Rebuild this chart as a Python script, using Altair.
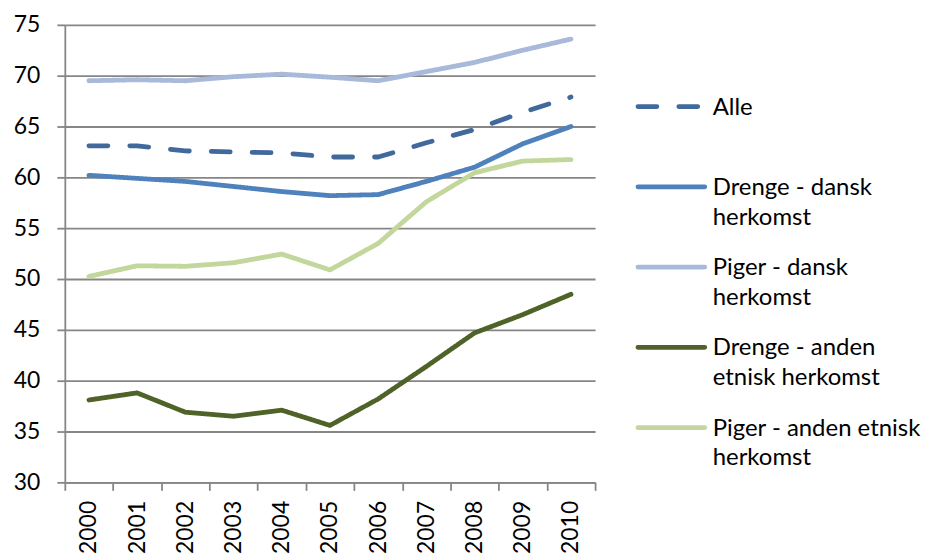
import altair as alt
import pandas as pd

years = [2000, 2001, 2002, 2003, 2004, 2005, 2006, 2007, 2008, 2009, 2010]
alle = [63.1, 63.1, 62.6, 62.5, 62.4, 62.0, 62.0, 63.4, 64.7, 66.4, 67.9]
drenge_dansk = [60.2, 59.9, 59.6, 59.1, 58.6, 58.2, 58.3, 59.6, 61.0, 63.3, 65.0]
piger_dansk = [69.5, 69.6, 69.5, 69.9, 70.15, 69.85, 69.5, 70.4, 71.3, 72.5, 73.6]
drenge_anden = [38.1, 38.8, 36.9, 36.5, 37.1, 35.6, 38.2, 41.4, 44.7, 46.5, 48.5]
piger_anden = [50.25, 51.3, 51.25, 51.6, 52.45, 50.9, 53.5, 57.6, 60.45, 61.6, 61.75]

series_names = ["Alle", "Drenge - dansk herkomst", "Piger - dansk herkomst",
                "Drenge - anden etnisk herkomst", "Piger - anden etnisk herkomst"]
legend_labels = ["Alle", "Drenge - dansk|herkomst", "Piger - dansk|herkomst",
                 "Drenge - anden|etnisk herkomst", "Piger - anden etnisk|herkomst"]
series_values = [alle, drenge_dansk, piger_dansk, drenge_anden, piger_anden]
colors = ["#41699C", "#4F81BD", "#A8B9D9", "#4F6228", "#C3D69B"]
dashes = [[19, 22], [1, 0], [1, 0], [1, 0], [1, 0]]
y_ticks = [30, 35, 40, 45, 50, 55, 60, 65, 70, 75]

rows = []
for name, vals in zip(series_names, series_values):
    for yr, v in zip(years, vals):
        rows.append({"year": yr, "value": v, "series": name})
df = pd.DataFrame(rows)

leg_df = pd.DataFrame({
    "series": series_names,
    "row": [str(i) for i in range(len(series_names))],
    "label": legend_labels,
})

FONT = "Lato"
GRID = "#868686"
LW = 4.8

x_enc = alt.X("year:O", bandPosition=0.5,
              scale=alt.Scale(type="band", paddingInner=0, paddingOuter=0),
              axis=alt.Axis(title=None, labelAngle=270, labelAlign="right",
                            labelBaseline="middle", tickBand="extent",
                            tickSize=8, labelPadding=10, grid=False))
y_enc = alt.Y("value:Q", scale=alt.Scale(domain=[30, 75], nice=False, zero=False),
              axis=alt.Axis(title=None, values=y_ticks, grid=True, tickSize=8,
                            labelPadding=17))

layers = []
for name, col, dash in zip(series_names, colors, dashes):
    layers.append(
        alt.Chart(df).transform_filter(alt.datum.series == name)
        .mark_line(strokeWidth=LW, strokeCap="round", strokeJoin="round",
                   color=col, strokeDash=dash)
        .encode(x=x_enc, y=y_enc)
    )
lines = alt.layer(*layers)

leg_y = alt.Y("row:O", axis=None,
              scale=alt.Scale(type="point", domain=[str(i) for i in range(5)],
                              range=[82, 404], padding=0))
leg_sym = alt.Chart(leg_df).mark_rule(strokeWidth=LW, strokeCap="round").encode(
    x=alt.value(575), x2=alt.value(642), y=leg_y,
    color=alt.Color("series:N", scale=alt.Scale(domain=series_names, range=colors), legend=None),
    strokeDash=alt.StrokeDash("series:N", scale=alt.Scale(domain=series_names, range=dashes), legend=None),
)
leg_txt = alt.Chart(leg_df).transform_calculate(
    lines="split(datum.label, '|')"
).mark_text(align="left", baseline="alphabetic", dy=8, font=FONT, fontSize=24,
            lineHeight=30, color="#000000").encode(
    x=alt.value(650), y=leg_y, text="lines:N"
)
legend = alt.layer(leg_sym, leg_txt)

chart = alt.layer(lines, legend).resolve_scale(
    y="independent"
).properties(width=532, height=459).configure_view(stroke=None).configure_axis(
    domainColor=GRID, domainWidth=1.8, gridColor=GRID, gridWidth=1.8,
    tickColor=GRID, tickWidth=1.8, labelFont=FONT, labelFontSize=23,
    labelColor="#000000",
)

chart.save("out.html", embed_options={"renderer": "svg", "actions": False})
